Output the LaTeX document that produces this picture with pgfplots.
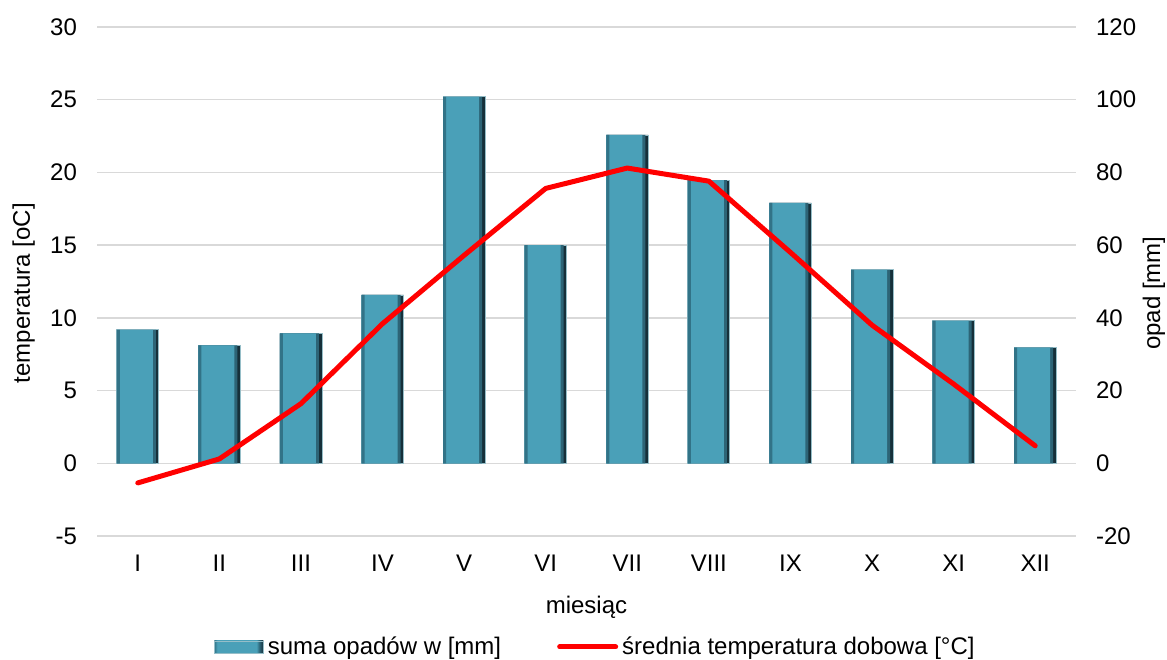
\documentclass[border=0pt]{standalone}
\usepackage{pgfplots}
\pgfplotsset{compat=1.18}
\usepackage{pgfplotstable}
\usepackage{fontspec}
\setmainfont{Liberation Sans}
\definecolor{bM}{RGB}{74,160,184}
\definecolor{bL}{RGB}{50,115,135}
\definecolor{bR}{RGB}{22,48,58}
\definecolor{bRm}{RGB}{45,100,118}
\definecolor{gridc}{RGB}{217,217,217}
\definecolor{edgec}{RGB}{150,190,200}
\pgfdeclarehorizontalshading{bevelbar}{100bp}{color(0bp)=(bL); color(25bp)=(bL); color(28bp)=(bM); color(68bp)=(bM); color(71bp)=(bRm); color(75bp)=(bR); color(100bp)=(bR)}

\pgfplotstableread{
x prec temp
0 36.7 -1.35
1 32.4 0.3
2 35.7 4.1
3 46.3 9.6
4 100.8 14.3
5 60.0 18.9
6 90.3 20.3
7 77.9 19.4
8 71.6 14.5
9 53.2 9.5
10 39.2 5.45
11 31.8 1.2
}\data

\begin{document}
\begin{tikzpicture}
\path[use as bounding box] (0,0) rectangle (583.5pt,329.5pt);
\pgfplotsset{
  common/.style={
    at={(48.5pt,61.5pt)}, anchor=south west,
    scale only axis, width=489.5pt, height=254.5pt,
    xmin=-0.5, xmax=11.5,
    axis line style={draw=none},
    major tick length=0pt,
    font=\fontsize{12}{14}\selectfont,
    /pgf/number format/assume math mode=true,
    enlargelimits=false,
  }
}
\begin{axis}[common,
  axis y line*=right,
  ymin=-20, ymax=120, ytick={-20,0,...,120},
  xtick=\empty,
  ymajorgrids, grid style={gridc, line width=0.75pt},
  yticklabel style={xshift=6.5pt},
  ylabel={opad [mm]},
  every axis y label/.style={at={(axis description cs:1.0797,0.477)}, rotate=90, anchor=center},
]
\addplot[ybar, bar width=21pt, bar shift=0pt, draw=edgec, line width=0.4pt, fill=bR] table[x=x,y=prec]{\data};
\addplot[ybar, bar width=19.5pt, bar shift=-0.75pt, draw=none, fill=bRm] table[x=x,y=prec]{\data};
\addplot[ybar, bar width=18pt, bar shift=-1.5pt, draw=none, fill=bM] table[x=x,y=prec]{\data};
\addplot[ybar, bar width=1.5pt, bar shift=-9.75pt, draw=none, fill=bL] table[x=x,y=prec]{\data};
\end{axis}
\begin{axis}[common,
  axis y line*=left,
  ymin=-5, ymax=30, ytick={-5,0,...,30},
  xtick={0,...,11},
  xticklabels={I,II,III,IV,V,VI,VII,VIII,IX,X,XI,XII},
  xticklabel style={yshift=-6pt},
  yticklabel style={xshift=-6.5pt},
  ylabel={temperatura [oC]},
  every axis y label/.style={at={(axis description cs:-0.075,0.477)}, rotate=90, anchor=center},
  xlabel={miesiąc},
  every axis x label/.style={at={(axis description cs:0.5,-0.1395)}, anchor=center},
  legend style={at={(axis description cs:0.51,-0.218)}, anchor=center, draw=none, fill=none,
    legend columns=2, /tikz/every even column/.append style={column sep=26pt}},
  legend cell align=left,
]
\addlegendimage{legend image code/.code={\shade[shading=bevelbar, draw=edgec] (0pt,-3pt) rectangle (24.5pt,3pt);}}
\addlegendentry{suma opadów w [mm]}
\addplot[red, line width=2.5pt, line join=round, line cap=round, no marks,
  legend image code/.code={\draw[red, line width=2.5pt, line cap=round] (0pt,0pt) -- (28pt,0pt);}] table[x=x,y=temp]{\data};
\addlegendentry{średnia temperatura dobowa [°C]}
\end{axis}
\end{tikzpicture}
\end{document}
